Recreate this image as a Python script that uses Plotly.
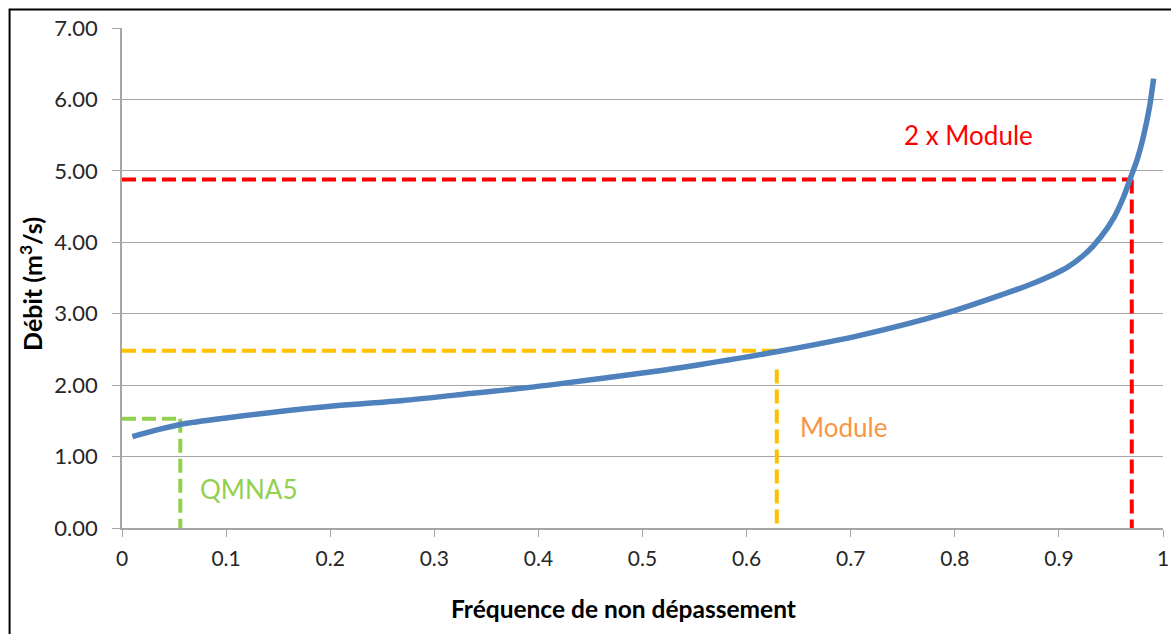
import plotly.graph_objects as go

# Courbe des débits classés
freq = [0.01, 0.03, 0.056, 0.10, 0.19, 0.27, 0.32, 0.41, 0.52, 0.556, 0.63, 0.71,
        0.79, 0.844, 0.876, 0.908, 0.927, 0.940, 0.953, 0.962, 0.969, 0.975,
        0.981, 0.987, 0.991]
debit = [1.28, 1.36, 1.45, 1.54, 1.69, 1.785, 1.86, 2.00, 2.21, 2.29, 2.47, 2.70,
         3.00, 3.26, 3.43, 3.65, 3.86, 4.07, 4.35, 4.63, 4.91, 5.15,
         5.47, 5.89, 6.29]

# Repères
qmna5_x, qmna5_y = 0.056, 1.53
module_x, module_y, module_vtop = 0.629, 2.48, 2.22
module2_x, module2_y = 0.970, 4.88

x_ticks = [0, 0.1, 0.2, 0.3, 0.4, 0.5, 0.6, 0.7, 0.8, 0.9, 1]
x_tick_labels = ["0", "0.1", "0.2", "0.3", "0.4", "0.5", "0.6", "0.7", "0.8", "0.9", "1"]
y_ticks = [0, 1, 2, 3, 4, 5, 6, 7]
y_tick_labels = ["0.00", "1.00", "2.00", "3.00", "4.00", "5.00", "6.00", "7.00"]

x_title = "Fréquence de non dépassement"
y_title = "Débit (m<sup>3</sup>/s)"

GREEN = "#92D050"
ORANGE = "#FFC000"
RED = "#FF0000"
BLUE = "#4F81BD"
GRID = "#A6A6A6"
DASH = "14px,6px"
FONT = "Lato"

fig = go.Figure()

def guide(xs, ys, color):
    fig.add_trace(go.Scatter(x=xs, y=ys, mode="lines", showlegend=False,
                             hoverinfo="skip",
                             line=dict(color=color, width=4, dash=DASH)))

# green QMNA5
guide([0, qmna5_x], [qmna5_y, qmna5_y], GREEN)
guide([qmna5_x, qmna5_x], [qmna5_y, -0.06], GREEN)
# orange Module
guide([0, module_x], [module_y, module_y], ORANGE)
guide([module_x, module_x], [module_vtop, 0], ORANGE)
# red 2 x Module
guide([0, module2_x], [module2_y, module2_y], RED)
guide([module2_x, module2_x], [module2_y, -0.06], RED)

fig.add_trace(go.Scatter(x=freq, y=debit, mode="lines", showlegend=False,
                         line=dict(color=BLUE, width=5.5, shape="spline", smoothing=0.8)))

fig.add_annotation(x=0.813, y=5.50, text="2 x Module", showarrow=False,
                   font=dict(family=FONT, size=26, color=RED))
fig.add_annotation(x=0.693, y=1.41, text="Module", showarrow=False,
                   font=dict(family=FONT, size=26, color="#F79646"))
fig.add_annotation(x=0.122, y=0.54, text="QMNA5", showarrow=False,
                   font=dict(family=FONT, size=26, color=GREEN))

# axis titles (placed as in the reference)
fig.add_annotation(x=0.482, y=-0.161, xref="paper", yref="paper",
                   xanchor="center", yanchor="middle",
                   text="<b>" + x_title + "</b>", showarrow=False,
                   font=dict(family=FONT, size=24.5, color="black"))
fig.add_annotation(x=-0.087, y=0.489, xref="paper", yref="paper", textangle=-90,
                   xanchor="center", yanchor="middle",
                   text="<b>" + y_title + "</b>", showarrow=False,
                   font=dict(family=FONT, size=25, color="black"))

# outer frame
fig.add_shape(type="rect", xref="paper", yref="paper",
              x0=-0.108, x1=1.03, y0=-0.25, y1=1.037,
              line=dict(color="black", width=2), fillcolor="rgba(0,0,0,0)")

fig.update_layout(
    width=1171, height=634,
    margin=dict(l=122, r=8, t=28, b=106),
    paper_bgcolor="white", plot_bgcolor="white",
    font=dict(family=FONT, size=20, color="#262626"),
    xaxis=dict(range=[0, 1], tickvals=x_ticks, ticktext=x_tick_labels,
               automargin=False,
               showgrid=False, zeroline=False, showline=True, linecolor=GRID,
               linewidth=1.5, ticks="outside", ticklen=7, tickcolor=GRID,
               ticklabelstandoff=4,
               tickfont=dict(family=FONT, size=21, color="#262626")),
    yaxis=dict(range=[0, 7.0001], tickvals=y_ticks, ticktext=y_tick_labels,
               automargin=False,
               showgrid=True, gridcolor=GRID, gridwidth=1.2, zeroline=False,
               showline=True, linecolor=GRID, linewidth=1.5,
               ticks="outside", ticklen=8, tickcolor=GRID,
               ticklabelstandoff=10,
               tickfont=dict(family=FONT, size=22, color="#262626")),
)

fig.write_html("out.html", config={"displayModeBar": False},
               post_script="document.body.style.margin='0px';")
